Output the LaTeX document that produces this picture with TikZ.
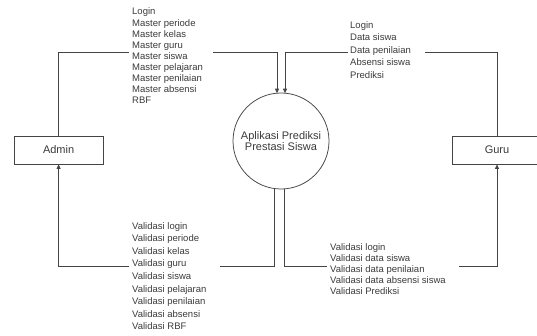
\documentclass[tikz,border=0pt]{standalone}
\usepackage{fontspec}
\setmainfont{Liberation Sans}
\usetikzlibrary{arrows.meta,shadows}
\definecolor{ln}{HTML}{444444}
\definecolor{tx}{HTML}{3A3A3A}
\begin{document}
\begin{tikzpicture}[x=1pt,y=-1pt,
 ent/.style={draw=ln, line width=0.75pt, fill=white, minimum width=89pt, minimum height=28pt, inner sep=0pt, font=\fontsize{11}{13}\selectfont, text=tx, drop shadow={shadow xshift=1.2pt,shadow yshift=-1.2pt,opacity=0.35,fill=black}},
 proc/.style={circle, draw=ln, line width=0.75pt, fill=white, minimum size=96pt, inner sep=0pt, align=center, font=\fontsize{11}{11.7}\selectfont, text=tx},
 flow/.style={draw=ln, line width=0.75pt},
 tip/.style={-{Triangle[width=4pt,length=4.5pt]}},
 lbl/.style={anchor=west, inner sep=0pt, align=left, text=tx}]
\useasboundingbox (0,0) rectangle (537,335);
\clip (0,0) rectangle (537,335);
\node[ent] (admin) at (58.6,150) {Admin};
\node[ent] (guru) at (497,150) {Guru};
\node[proc] (app) at (281,141) {Aplikasi Prediksi\\Prestasi Siswa};
\node[lbl, font=\fontsize{9.5}{11.1}\selectfont] (lA) at (132,55.9) {Login\\Master periode\\Master kelas\\Master guru\\Master siswa\\Master pelajaran\\Master penilaian\\Master absensi\\RBF};
\node[lbl, font=\fontsize{9.5}{12.4}\selectfont] (lG) at (350,50) {Login\\Data siswa\\Data penilaian\\Absensi siswa\\Prediksi};
\node[lbl, font=\fontsize{9.5}{12.6}\selectfont] (lAV) at (132,276) {Validasi login\\Validasi periode\\Validasi kelas\\Validasi guru\\Validasi siswa\\Validasi pelajaran\\Validasi penilaian\\Validasi absensi\\Validasi RBF};
\node[lbl, font=\fontsize{9.5}{11.1}\selectfont] (lGV) at (330,269) {Validasi login\\Validasi data siswa\\Validasi data penilaian\\Validasi data absensi siswa\\Validasi Prediksi};
\coordinate (a1) at (129,52); \coordinate (a2) at (213,52); \coordinate (pA) at (277,93.2);
\coordinate (g1) at (425,52); \coordinate (g2) at (347.7,52); \coordinate (pG) at (285,93.2);
\coordinate (qA) at (274,188.5); \coordinate (b1) at (220,266); \coordinate (b2) at (129,266);
\coordinate (qG) at (284,188.9); \coordinate (c1) at (327,266); \coordinate (c2) at (459,266);
\draw[flow] (admin.north) |- (a1);
\draw[flow,tip] (a2) -| (pA);
\draw[flow] (guru.north) |- (g1);
\draw[flow,tip] (g2) -| (pG);
\draw[flow] (qA) |- (b1);
\draw[flow,tip] (b2) -| (admin.south);
\draw[flow] (qG) |- (c1);
\draw[flow,tip] (c2) -| (guru.south);
\end{tikzpicture}
\end{document}
